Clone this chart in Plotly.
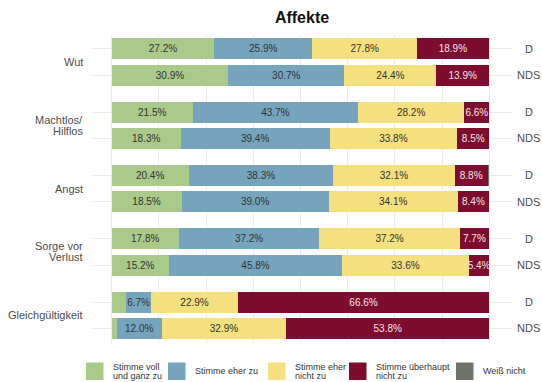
import plotly.graph_objects as go

# ---------------- data ----------------
items = ["Wut", "Machtlos/\nHilflos", "Angst", "Sorge vor\nVerlust", "Gleichgültigkeit"]
groups = ["D", "NDS"]
categories = ["Stimme voll\nund ganz zu", "Stimme eher zu", "Stimme eher\nnicht zu",
              "Stimme überhaupt\nnicht zu", "Weiß nicht"]
# row order: Wut D, Wut NDS, Machtlos D, Machtlos NDS, ...
voll = [27.2, 30.9, 21.5, 18.3, 20.4, 18.5, 17.8, 15.2, 3.8, 1.3]
eher = [25.9, 30.7, 43.7, 39.4, 38.3, 39.0, 37.2, 45.8, 6.7, 12.0]
eher_nicht = [27.8, 24.4, 28.2, 33.8, 32.1, 34.1, 37.2, 33.6, 22.9, 32.9]
ueberhaupt = [18.9, 13.9, 6.6, 8.5, 8.8, 8.4, 7.7, 5.4, 66.6, 53.8]
weiss = [0.2, 0.1, 0.0, 0.0, 0.4, 0.0, 0.1, 0.0, 0.0, 0.0]

series = [voll, eher, eher_nicht, ueberhaupt, weiss]
colors = ["#A9CA8A", "#76A4BC", "#F4E07E", "#7E0C2F", "#6F746B"]
text_colors = ["#333333", "#333333", "#333333", "#F3E6EA", "#FFFFFF"]
show_labels = [True, True, True, True, False]

FONT = "Liberation Sans, Arial, sans-serif"

# ---------------- layout geometry ----------------
W, H = 542, 382
L, R, T, B = 92, 30, 35, 39
PW, PH = W - L - R, H - T - B
GROUP_STEP = 2.4
ypos = []
for g in range(len(items)):
    ypos += [g * GROUP_STEP, g * GROUP_STEP + 1]
y_range = [ypos[-1] + 0.55, -0.52]


def px2x(px):
    return (px - L) / PW


def py2y(py):
    return (H - B - py) / PH


fig = go.Figure()
for vals, name, col, tcol, lab in zip(series, categories, colors, text_colors, show_labels):
    txt = [f"{v:.1f}%" if (lab and v >= 5) else "" for v in vals]
    fig.add_trace(go.Bar(
        x=vals, y=ypos, orientation="h", name=name.replace("\n", " "),
        marker=dict(color=col, line=dict(width=0)), width=0.8,
        text=txt, textposition="inside", insidetextanchor="middle",
        textangle=0, textfont=dict(size=10, color=tcol, family=FONT),
        showlegend=False, hoverinfo="skip"))

annotations = []
# group labels on the left
for g, item in enumerate(items):
    lines = item.split("\n")
    yc = (ypos[2 * g] + ypos[2 * g + 1]) / 2
    n = len(lines)
    for i, ln in enumerate(lines):
        annotations.append(dict(
            x=px2x(84.5), xref="paper", y=yc, yref="y", text=ln, showarrow=False,
            xanchor="right", yanchor="middle", yshift=((n - 1) / 2 - i) * 11,
            font=dict(size=11, color="#4D4D4D", family=FONT)))
# D / NDS labels on the right
for k, yv in enumerate(ypos):
    annotations.append(dict(
        x=px2x(528.5), xref="paper", y=yv, yref="y", text=groups[k % 2], showarrow=False,
        xanchor="center", yanchor="middle",
        font=dict(size=11, color="#4D4D4D", family=FONT)))

# legend (drawn manually)
shapes = []
key_lefts = [86, 168, 268, 349, 456]
key_top, key_bot, key_w = 362.5, 380, 17.5
yc_leg = (key_top + key_bot) / 2
for kl, col, name in zip(key_lefts, colors, categories):
    shapes.append(dict(type="rect", xref="paper", yref="paper",
                       x0=px2x(kl), x1=px2x(kl + key_w), y0=py2y(key_bot), y1=py2y(key_top),
                       fillcolor=col, line=dict(width=0)))
    lines = name.split("\n")
    n = len(lines)
    for i, ln in enumerate(lines):
        yy = yc_leg + (i - (n - 1) / 2) * 9
        annotations.append(dict(
            x=px2x(kl + key_w + 7), xref="paper", y=py2y(yy), yref="paper", text=ln,
            showarrow=False, xanchor="left", yanchor="middle",
            font=dict(size=9, color="#333333", family=FONT)))

fig.update_layout(
    width=W, height=H,
    margin=dict(l=L, r=R, t=T, b=B, pad=0),
    barmode="stack",
    plot_bgcolor="white", paper_bgcolor="white",
    title=dict(text="<b>Affekte</b>", x=302 / W, xref="container", xanchor="center",
               y=1 - 17.5 / H, yref="container", yanchor="middle",
               font=dict(size=16, color="#111111", family=FONT)),
    xaxis=dict(range=[-5.2, 106.0], tick0=0, dtick=12.5, showgrid=True, gridcolor="#EBEBEB",
               gridwidth=1, showticklabels=False, zeroline=False, showline=False, ticks="",
               fixedrange=True),
    yaxis=dict(range=y_range, tickmode="array", tickvals=ypos, showgrid=True,
               gridcolor="#EBEBEB", gridwidth=1, showticklabels=False, zeroline=False,
               showline=False, ticks="", fixedrange=True),
    uniformtext=dict(minsize=10, mode="show"),
    annotations=annotations, shapes=shapes,
    showlegend=False,
)

fig.write_html("out.html", config={"staticPlot": True},
               post_script="document.body.style.margin='0';document.body.style.overflow='hidden';")
